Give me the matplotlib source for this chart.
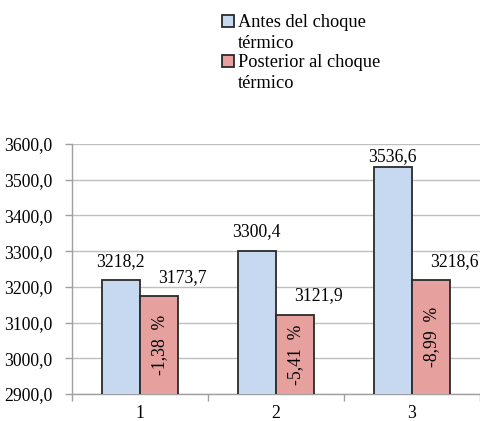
import matplotlib
matplotlib.use("Agg")
import matplotlib.pyplot as plt
from matplotlib.patches import Rectangle
from matplotlib.ticker import FuncFormatter, FixedLocator

plt.rcParams['font.family'] = ['Liberation Serif', 'DejaVu Serif']

categories = ["1", "2", "3"]
antes = [3218.2, 3300.4, 3536.6]
posterior = [3173.7, 3121.9, 3218.6]
variacion = [-1.38, -5.41, -8.99]
series_names = [["Antes del choque", "térmico"], ["Posterior al choque", "térmico"]]
y_ticks = [2900, 3000, 3100, 3200, 3300, 3400, 3500, 3600]

c_antes = "#C6D9F1"
c_post = "#E6A19F"
edge = "#2A2A2A"
grid_c = "#BFBFBF"
fs = 12.7

W, H = 480, 421
fig = plt.figure(figsize=(W / 100, H / 100), dpi=100)
ax = fig.add_axes([72 / W, 1 - 394 / H, (480 - 72) / W, (394 - 144) / H])

x = list(range(1, len(categories) + 1))
bw = 0.283
xa = [v - bw / 2 for v in x]
xp = [v + bw / 2 for v in x]
ax.bar(xa, antes, width=bw, color=c_antes, edgecolor=edge, linewidth=1.3, zorder=3)
ax.bar(xp, posterior, width=bw, color=c_post, edgecolor=edge, linewidth=1.3, zorder=3)

ax.set_xlim(0.5, 3.5)
ax.set_ylim(2900, 3600)
ax.yaxis.set_major_locator(FixedLocator(y_ticks))
ax.yaxis.set_major_formatter(FuncFormatter(lambda v, p: f"{v:.1f}".replace(".", ",")))
ax.grid(axis='y', color=grid_c, linewidth=1, zorder=0)

# category separators as major ticks, labels on minor ticks at centres
ax.set_xticks([0.5, 1.5, 2.5, 3.5])
ax.set_xticklabels([])
ax.set_xticks(x, minor=True)
ax.set_xticklabels(categories, minor=True)
ax.tick_params(axis='x', which='major', length=5, color="#A0A0A0", width=1)
ax.tick_params(axis='x', which='minor', length=0, pad=8, labelsize=fs)
ax.tick_params(axis='y', length=5, color="#A0A0A0", width=1, pad=9, labelsize=fs)

for s in ['top', 'right']:
    ax.spines[s].set_visible(False)
for s in ['left', 'bottom']:
    ax.spines[s].set_color("#A0A0A0")
    ax.spines[s].set_linewidth(1)

px = 100 / 35.7  # data units per pixel on the value axis
fmt = lambda v: f"{v:.1f}".replace(".", ",")
for xi, v in zip(xa, antes):
    ty = min(v + 19 * px, 3600 - 13 * px)
    ax.text(xi, ty, fmt(v), ha='center', va='center', fontsize=fs, zorder=4)
for xi, v, pct in zip(xp, posterior, variacion):
    ax.annotate(fmt(v), (xi, v + 19 * px), xytext=(23, 0), textcoords='offset pixels',
                ha='center', va='center', fontsize=fs, zorder=4)
    ax.text(xi, (2900 + v) / 2, f"{pct:.2f}  %".replace(".", ","), rotation=90,
            ha='center', va='center', fontsize=fs, zorder=4)

# legend drawn in figure pixel coordinates
leg_fs = 13.2
for i, (lines, col) in enumerate(zip(series_names, [c_antes, c_post])):
    top = 15 + 40 * i
    fig.patches.append(Rectangle((222 / W, 1 - (top + 12) / H), 12 / W, 12 / H,
                                 transform=fig.transFigure, facecolor=col,
                                 edgecolor=edge, linewidth=1.3))
    for j, line in enumerate(lines):
        base = 27 + 40 * i + 20.5 * j
        fig.text(238 / W, 1 - base / H, line, ha='left', va='baseline', fontsize=leg_fs)

fig.savefig("out.png", dpi=100)
